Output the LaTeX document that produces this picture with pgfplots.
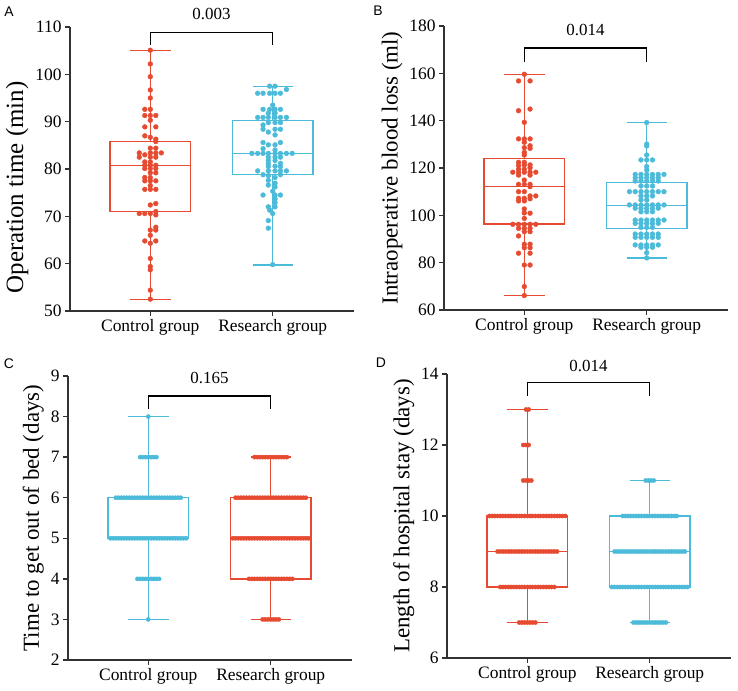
\documentclass[border=0pt]{standalone}
\usepackage{pgfplots}
\pgfplotsset{compat=1.18}
\usepackage{pgfplotstable}
\usepackage{fontspec}
\setmainfont{Liberation Serif}
\newfontfamily\panelfont{Liberation Sans}

\definecolor{grpred}{RGB}{230,75,50}
\definecolor{grpcyan}{RGB}{76,187,218}
\definecolor{axisgray}{RGB}{50,50,50}

% panel A: operation time (k = column slot, step 0.045)
\pgfplotstableread[row sep=\\]{
k y\\
0 105.1\\ 0 102.2\\ 0 99.5\\ 0 96.7\\ 0 95.0\\
-1 92.6\\ 0 92.6\\ -1 91.3\\ 0 91.3\\ 1 91.3\\ 0 90.3\\
-1 88.9\\ 1 88.9\\ -1 87.0\\ 0 86.7\\ 1 86.3\\ 1 85.8\\
0 84.4\\ 1 84.4\\ -2 83.4\\ 0 83.4\\ 1 83.4\\ 2 83.4\\ -1 83.0\\
-2 82.5\\ 0 82.5\\ 1 82.5\\ -1 81.5\\ 0 81.5\\
-1 80.8\\ 0 80.8\\ 1 80.8\\ -1 80.1\\ 0 80.1\\ 1 80.1\\
0 79.2\\ 1 79.2\\ -1 78.2\\ 0 78.2\\ -1 77.5\\ 0 77.5\\ 1 77.5\\
0 76.5\\ -1 75.7\\ 0 75.7\\ 1 75.7\\
1 72.7\\ 0 72.4\\ 1 71.0\\ -2 70.6\\ -1 70.6\\ 0 70.6\\ 1 70.3\\
1 67.7\\ 0 67.1\\ 1 67.1\\ 0 66.0\\ -1 64.8\\ 1 64.8\\ 0 64.3\\
0 61.1\\ 0 59.4\\ 0 58.7\\ 0 54.4\\ 0 52.5\\
}\Actl

\pgfplotstableread[row sep=\\]{
k y\\
-0.025 97.5\\ 0.019 97.5\\ 0.112 96.8\\
-0.123 96.0\\ -0.079 96.0\\ -0.025 96.0\\ 0.019 96.0\\ 0.063 96.0\\
0 93.5\\ -0.079 92.6\\ -0.025 92.6\\ 0.019 92.6\\ 0.063 92.6\\
-0.036 91.8\\ 0.019 91.8\\
-0.123 90.9\\ -0.079 90.9\\ -0.036 90.9\\ 0.019 90.9\\ 0.063 90.9\\ 0.112 90.9\\
-0.036 89.8\\ 0.019 89.8\\ 0.063 89.8\\ -0.079 89.3\\
-0.079 88.4\\ 0.019 88.4\\ 0.063 88.4\\ -0.036 87.8\\ 0.019 87.2\\
-0.079 85.6\\ 0.063 85.6\\ -0.036 85.1\\ 0.019 85.1\\ -0.079 84.3\\ 0.019 84.0\\
-0.170 83.3\\ -0.123 83.3\\ -0.079 83.3\\ -0.036 83.3\\ 0.019 83.3\\ 0.063 83.3\\ 0.112 83.3\\ 0.159 83.3\\
-0.036 82.5\\ 0.019 82.5\\ 0.063 82.5\\ -0.036 81.8\\ 0.019 81.8\\
-0.036 81.1\\ 0.063 81.2\\ -0.036 80.5\\ 0.019 80.6\\ 0.063 80.5\\
-0.123 79.6\\ -0.036 79.6\\ 0.019 79.6\\ 0.063 79.6\\ 0.112 79.6\\
-0.079 78.8\\ -0.036 78.6\\ 0.063 78.8\\ 0.019 78.2\\
-0.036 77.6\\ 0.019 77.0\\ -0.036 76.6\\ 0.019 76.2\\ 0 75.3\\
-0.079 74.5\\ 0.019 74.5\\ 0.063 74.5\\ 0.019 73.7\\ 0.019 72.9\\
-0.036 72.0\\ 0.019 72.0\\ -0.025 71.3\\ 0 70.6\\
-0.036 69.1\\ -0.036 67.5\\ 0 59.8\\
}\Ares

% panel B: blood loss (step 0.047)
\pgfplotstableread[row sep=\\]{
k y\\
0 159.6\\ -1 156.8\\ 1 156.8\\ 1 144.9\\ -1 144.2\\ 0 139.3\\
-1 132.3\\ 0 132.3\\ 1 132.3\\ 0 130.9\\ 1 129.4\\ 0 128.6\\ 1 128.3\\ 0 126.6\\ 0 125.5\\
-1 122.4\\ 0 122.4\\ -1 121.0\\ 0 121.3\\ 1 121.3\\ 1 120.1\\ -1 119.5\\ 0 119.5\\
-2 118.2\\ -1 118.2\\ 0 118.2\\ 1 118.2\\ 2 118.2\\ -1 117.0\\ 1 117.0\\ 0 114.9\\
-1 113.1\\ 0 113.1\\ 1 113.1\\ 1 112.1\\ -1 110.0\\ 0 110.0\\ 1 108.2\\ 2 108.2\\
-1 107.2\\ 0 107.2\\ 1 107.0\\ -1 106.1\\ 0 106.1\\
0 102.7\\ 0 101.0\\ 1 100.9\\ 0 98.7\\
-2 96.2\\ -1 96.2\\ 0 96.2\\ 1 96.2\\ 2 96.2\\
-1 94.5\\ 0 94.5\\ 1 94.5\\ 0 93.1\\ 1 93.1\\ -1 91.3\\
0 87.8\\ 1 87.8\\ 0 86.3\\ 1 86.3\\ -1 84.0\\ 1 84.0\\
0 79.0\\ 1 79.0\\ 0 69.9\\ 0 66.1\\
}\Bctl

\pgfplotstableread[row sep=\\]{
k y\\
0 139.2\\ 0 130.1\\ 0 129.3\\ 0 125.5\\ -1 123.4\\ 0 123.4\\ 1 123.4\\ 0 120.6\\ 0 119.2\\
-2 117.3\\ -1 117.3\\ 0 117.3\\ 1 117.3\\ 2 117.3\\ 3 117.3\\
-2 115.9\\ -1 115.9\\ 0 115.9\\ 1 115.9\\ 2 115.9\\
-2 114.5\\ -1 114.5\\ 0 114.5\\ 1 114.5\\ 2 114.5\\
-1 112.4\\ 0 112.4\\ 1 112.4\\
-3 110.0\\ -2 110.0\\ -1 110.0\\ 0 110.0\\ 1 110.0\\ 2 110.0\\ 3 110.0\\
-1 108.2\\ 0 108.2\\ 1 108.2\\ -1 106.5\\ 0 106.5\\
-3 104.4\\ -2 104.4\\ -1 104.4\\ 0 104.4\\ 1 104.4\\ 2 104.4\\ 3 104.4\\
-2 103.0\\ -1 103.0\\ 0 103.0\\ 1 103.0\\ 2 103.0\\
-1 101.5\\ 0 101.5\\ 1 101.5\\
-2 98.0\\ -1 98.0\\ 0 98.0\\ 1 98.0\\ 2 98.0\\ 3 98.0\\
-2 96.6\\ -1 96.6\\ 0 96.6\\ 1 96.6\\ 2 96.6\\
-1 94.9\\ 0 94.9\\ 1 94.9\\
-2 92.1\\ -1 92.1\\ 0 92.1\\ 1 92.1\\ 2 92.1\\
-2 90.7\\ -1 90.7\\ 0 90.7\\ 1 90.7\\ 2 90.7\\
-2 87.5\\ -1 87.5\\ 0 87.5\\ 1 87.5\\ 2 87.5\\
-1 86.5\\ 0 86.5\\ 1 86.5\\ 0 84.2\\ 0 82.0\\
}\Bres

% panel C: time to get out of bed (step 0.0221)
\pgfplotstableread[row sep=\\]{
k y\\
0 3\\
-4 4\\ -3 4\\ -2 4\\ -1 4\\ 0 4\\ 1 4\\ 2 4\\ 3 4\\ 4 4\\
-14 5\\ -13 5\\ -12 5\\ -11 5\\ -10 5\\ -9 5\\ -8 5\\ -7 5\\ -6 5\\ -5 5\\ -4 5\\ -3 5\\ -2 5\\ -1 5\\ 0 5\\
1 5\\ 2 5\\ 3 5\\ 4 5\\ 5 5\\ 6 5\\ 7 5\\ 8 5\\ 9 5\\ 10 5\\ 11 5\\ 12 5\\ 13 5\\ 14 5\\
-12 6\\ -11 6\\ -10 6\\ -9 6\\ -8 6\\ -7 6\\ -6 6\\ -5 6\\ -4 6\\ -3 6\\ -2 6\\ -1 6\\ 0 6\\
1 6\\ 2 6\\ 3 6\\ 4 6\\ 5 6\\ 6 6\\ 7 6\\ 8 6\\ 9 6\\ 10 6\\ 11 6\\ 12 6\\
-3 7\\ -2 7\\ -1 7\\ 0 7\\ 1 7\\ 2 7\\ 3 7\\
0 8\\
}\Cctl

\pgfplotstableread[row sep=\\]{
k y\\
-3 3\\ -2 3\\ -1 3\\ 0 3\\ 1 3\\ 2 3\\ 3 3\\
-8 4\\ -7 4\\ -6 4\\ -5 4\\ -4 4\\ -3 4\\ -2 4\\ -1 4\\ 0 4\\ 1 4\\ 2 4\\ 3 4\\ 4 4\\ 5 4\\ 6 4\\ 7 4\\ 8 4\\
-14 5\\ -13 5\\ -12 5\\ -11 5\\ -10 5\\ -9 5\\ -8 5\\ -7 5\\ -6 5\\ -5 5\\ -4 5\\ -3 5\\ -2 5\\ -1 5\\ 0 5\\
1 5\\ 2 5\\ 3 5\\ 4 5\\ 5 5\\ 6 5\\ 7 5\\ 8 5\\ 9 5\\ 10 5\\ 11 5\\ 12 5\\ 13 5\\ 14 5\\
-13 6\\ -12 6\\ -11 6\\ -10 6\\ -9 6\\ -8 6\\ -7 6\\ -6 6\\ -5 6\\ -4 6\\ -3 6\\ -2 6\\ -1 6\\ 0 6\\
1 6\\ 2 6\\ 3 6\\ 4 6\\ 5 6\\ 6 6\\ 7 6\\ 8 6\\ 9 6\\ 10 6\\ 11 6\\ 12 6\\ 13 6\\
-6 7\\ -5 7\\ -4 7\\ -3 7\\ -2 7\\ -1 7\\ 0 7\\ 1 7\\ 2 7\\ 3 7\\ 4 7\\ 5 7\\ 6 7\\
}\Cres

% panel D: length of hospital stay (step 0.0221)
\pgfplotstableread[row sep=\\]{
k y\\
-3 7\\ -2 7\\ -1 7\\ 0 7\\ 1 7\\ 2 7\\ 3 7\\
-10 8\\ -9 8\\ -8 8\\ -7 8\\ -6 8\\ -5 8\\ -4 8\\ -3 8\\ -2 8\\ -1 8\\ 0 8\\
1 8\\ 2 8\\ 3 8\\ 4 8\\ 5 8\\ 6 8\\ 7 8\\ 8 8\\ 9 8\\ 10 8\\
-11 9\\ -10 9\\ -9 9\\ -8 9\\ -7 9\\ -6 9\\ -5 9\\ -4 9\\ -3 9\\ -2 9\\ -1 9\\ 0 9\\
1 9\\ 2 9\\ 3 9\\ 4 9\\ 5 9\\ 6 9\\ 7 9\\ 8 9\\ 9 9\\ 10 9\\ 11 9\\
-14 10\\ -13 10\\ -12 10\\ -11 10\\ -10 10\\ -9 10\\ -8 10\\ -7 10\\ -6 10\\ -5 10\\ -4 10\\ -3 10\\ -2 10\\ -1 10\\ 0 10\\
1 10\\ 2 10\\ 3 10\\ 4 10\\ 5 10\\ 6 10\\ 7 10\\ 8 10\\ 9 10\\ 10 10\\ 11 10\\ 12 10\\ 13 10\\ 14 10\\
-1.5 11\\ -0.5 11\\ 0.5 11\\ 1.5 11\\
-1.5 12\\ -0.5 12\\ 0.5 12\\
-0.5 13\\ 0.5 13\\
}\Dctl

\pgfplotstableread[row sep=\\]{
k y\\
-6 7\\ -5 7\\ -4 7\\ -3 7\\ -2 7\\ -1 7\\ 0 7\\ 1 7\\ 2 7\\ 3 7\\ 4 7\\ 5 7\\ 6 7\\
-14 8\\ -13 8\\ -12 8\\ -11 8\\ -10 8\\ -9 8\\ -8 8\\ -7 8\\ -6 8\\ -5 8\\ -4 8\\ -3 8\\ -2 8\\ -1 8\\ 0 8\\
1 8\\ 2 8\\ 3 8\\ 4 8\\ 5 8\\ 6 8\\ 7 8\\ 8 8\\ 9 8\\ 10 8\\ 11 8\\ 12 8\\ 13 8\\ 14 8\\
-13 9\\ -12 9\\ -11 9\\ -10 9\\ -9 9\\ -8 9\\ -7 9\\ -6 9\\ -5 9\\ -4 9\\ -3 9\\ -2 9\\ -1 9\\ 0 9\\
1 9\\ 2 9\\ 3 9\\ 4 9\\ 5 9\\ 6 9\\ 7 9\\ 8 9\\ 9 9\\ 10 9\\ 11 9\\ 12 9\\ 13 9\\
-10 10\\ -9 10\\ -8 10\\ -7 10\\ -6 10\\ -5 10\\ -4 10\\ -3 10\\ -2 10\\ -1 10\\ 0 10\\
1 10\\ 2 10\\ 3 10\\ 4 10\\ 5 10\\ 6 10\\ 7 10\\ 8 10\\ 9 10\\ 10 10\\
-1.5 11\\ -0.5 11\\ 0.5 11\\ 1.5 11\\
}\Dres

\pgfplotsset{
  panel/.style={
    scale only axis, width=284bp, height=284bp,
    anchor=south west,
    axis lines*=left,
    axis line style={axisgray, line width=1.3bp},
    tick style={axisgray, line width=1.3bp},
    tick align=outside, major tick length=5bp,
    xtick={0,1}, xticklabels={Control group, Research group},
    xmin=-0.656, xmax=1.664,
    scaled y ticks=false,
    /pgf/number format/assume math mode=true,
    tick label style={font=\rmfamily\fontsize{17.5}{20}\selectfont},
    ylabel style={font=\rmfamily\fontsize{23}{26}\selectfont, at={(ticklabel cs:0.5)}},
    clip=false,
  },
  dots/.style={only marks, mark=*, mark size=2.1bp, mark options={draw=none}},
  bigdots/.style={dots, mark size=2.4bp},
  bx/.style={line width=1.3bp, solid, mark=none, sharp plot},
  bracket/.style={black, line width=1.3bp, mark=none, sharp plot},
}

% box with min-max whiskers: #1 position, #2 colour, #3 min, #4 Q1, #5 median, #6 Q3, #7 max
\newcommand{\boxwhisk}[7]{%
  \addplot[bx, #2, line cap=rect, x filter/.expression={x+#1}]
    coordinates {(-0.33,#4) (0.33,#4) (0.33,#6) (-0.33,#6) (-0.33,#4)};
  \addplot[bx, #2, x filter/.expression={x+#1}] coordinates {(-0.33,#5) (0.33,#5)};
  \addplot[bx, #2, x filter/.expression={x+#1}] coordinates {(0,#6) (0,#7)};
  \addplot[bx, #2, x filter/.expression={x+#1}] coordinates {(0,#3) (0,#4)};
  \addplot[bx, #2, x filter/.expression={x+#1}] coordinates {(-0.165,#7) (0.165,#7)};
  \addplot[bx, #2, x filter/.expression={x+#1}] coordinates {(-0.165,#3) (0.165,#3)};
}

\begin{document}
\begin{tikzpicture}[font=\rmfamily]
\path[use as bounding box] (0,0) rectangle (738bp,691bp);

% A
\begin{axis}[panel, at={(70bp,380bp)},
  ymin=50, ymax=110, ytick={50,60,...,110},
  ylabel={Operation time (min)},
  ylabel style={font=\rmfamily\fontsize{25}{28}\selectfont, at={(ticklabel cs:0.435)}}]
\boxwhisk{0}{grpred}{52.5}{71.0}{80.7}{85.8}{105.1}
\boxwhisk{1}{grpcyan}{59.7}{78.9}{83.2}{90.2}{97.4}
\addplot[bigdots, grpred] table[x expr=0.045*\thisrow{k}, y=y] {\Actl};
\addplot[bigdots, grpcyan] table[x expr=1+\thisrow{k}, y=y] {\Ares};
\addplot[bracket] coordinates {(0,106.2) (0,108.9) (1,108.9) (1,106.2)};
\node[font=\rmfamily\fontsize{17}{20}\selectfont] at (axis cs:0.5,112.85) {0.003};
\end{axis}

% B
\begin{axis}[panel, at={(444bp,381bp)},
  ymin=60, ymax=180, ytick={60,80,100,120,140,160,180},
  ylabel={Intraoperative blood loss (ml)}]
\boxwhisk{0}{grpred}{66.0}{96.3}{112.3}{124.0}{159.5}
\boxwhisk{1}{grpcyan}{82.0}{94.5}{104.3}{114.0}{139.2}
\addplot[bigdots, grpred] table[x expr=0.047*\thisrow{k}, y=y] {\Bctl};
\addplot[bigdots, grpcyan] table[x expr=1+0.047*\thisrow{k}, y=y] {\Bres};
\addplot[bracket] coordinates {(0,164.8) (0,170.7) (1,170.7) (1,164.8)};
\node[font=\rmfamily\fontsize{17}{20}\selectfont] at (axis cs:0.5,178.3) {0.014};
\end{axis}

% C
\begin{axis}[panel, at={(68bp,31bp)},
  ymin=2, ymax=9, ytick={2,3,...,9},
  ylabel={Time to get out of bed (days)}]
\boxwhisk{0}{grpcyan}{3}{5}{5}{6}{8}
\boxwhisk{1}{grpred}{3}{4}{5}{6}{7}
\addplot[dots, grpcyan] table[x expr=0.0221*\thisrow{k}, y=y] {\Cctl};
\addplot[dots, grpred] table[x expr=1+0.0221*\thisrow{k}, y=y] {\Cres};
\addplot[bracket] coordinates {(0,8.19) (0,8.51) (1,8.51) (1,8.19)};
\node[font=\rmfamily\fontsize{17}{20}\selectfont] at (axis cs:0.5,8.95) {0.165};
\end{axis}

% D
\begin{axis}[panel, at={(447bp,33bp)},
  ymin=6, ymax=14, ytick={6,8,...,14},
  ylabel={Length of hospital stay (days)}]
\boxwhisk{0}{grpred}{7}{8}{9}{10}{13}
\boxwhisk{1}{grpcyan}{7}{8}{9}{10}{11}
\addplot[dots, grpred] table[x expr=0.0221*\thisrow{k}, y=y] {\Dctl};
\addplot[dots, grpcyan] table[x expr=1+0.0221*\thisrow{k}, y=y] {\Dres};
\addplot[bracket] coordinates {(0,13.38) (0,13.77) (1,13.77) (1,13.38)};
\node[font=\rmfamily\fontsize{17}{20}\selectfont] at (axis cs:0.5,14.23) {0.014};
\end{axis}

% panel letters
\node[font=\panelfont\fontsize{14}{16}\selectfont] at (9bp,679bp) {A};
\node[font=\panelfont\fontsize{14}{16}\selectfont] at (378bp,680bp) {B};
\node[font=\panelfont\fontsize{14}{16}\selectfont] at (9bp,327bp) {C};
\node[font=\panelfont\fontsize{14}{16}\selectfont] at (381bp,328bp) {D};
\end{tikzpicture}
\end{document}
